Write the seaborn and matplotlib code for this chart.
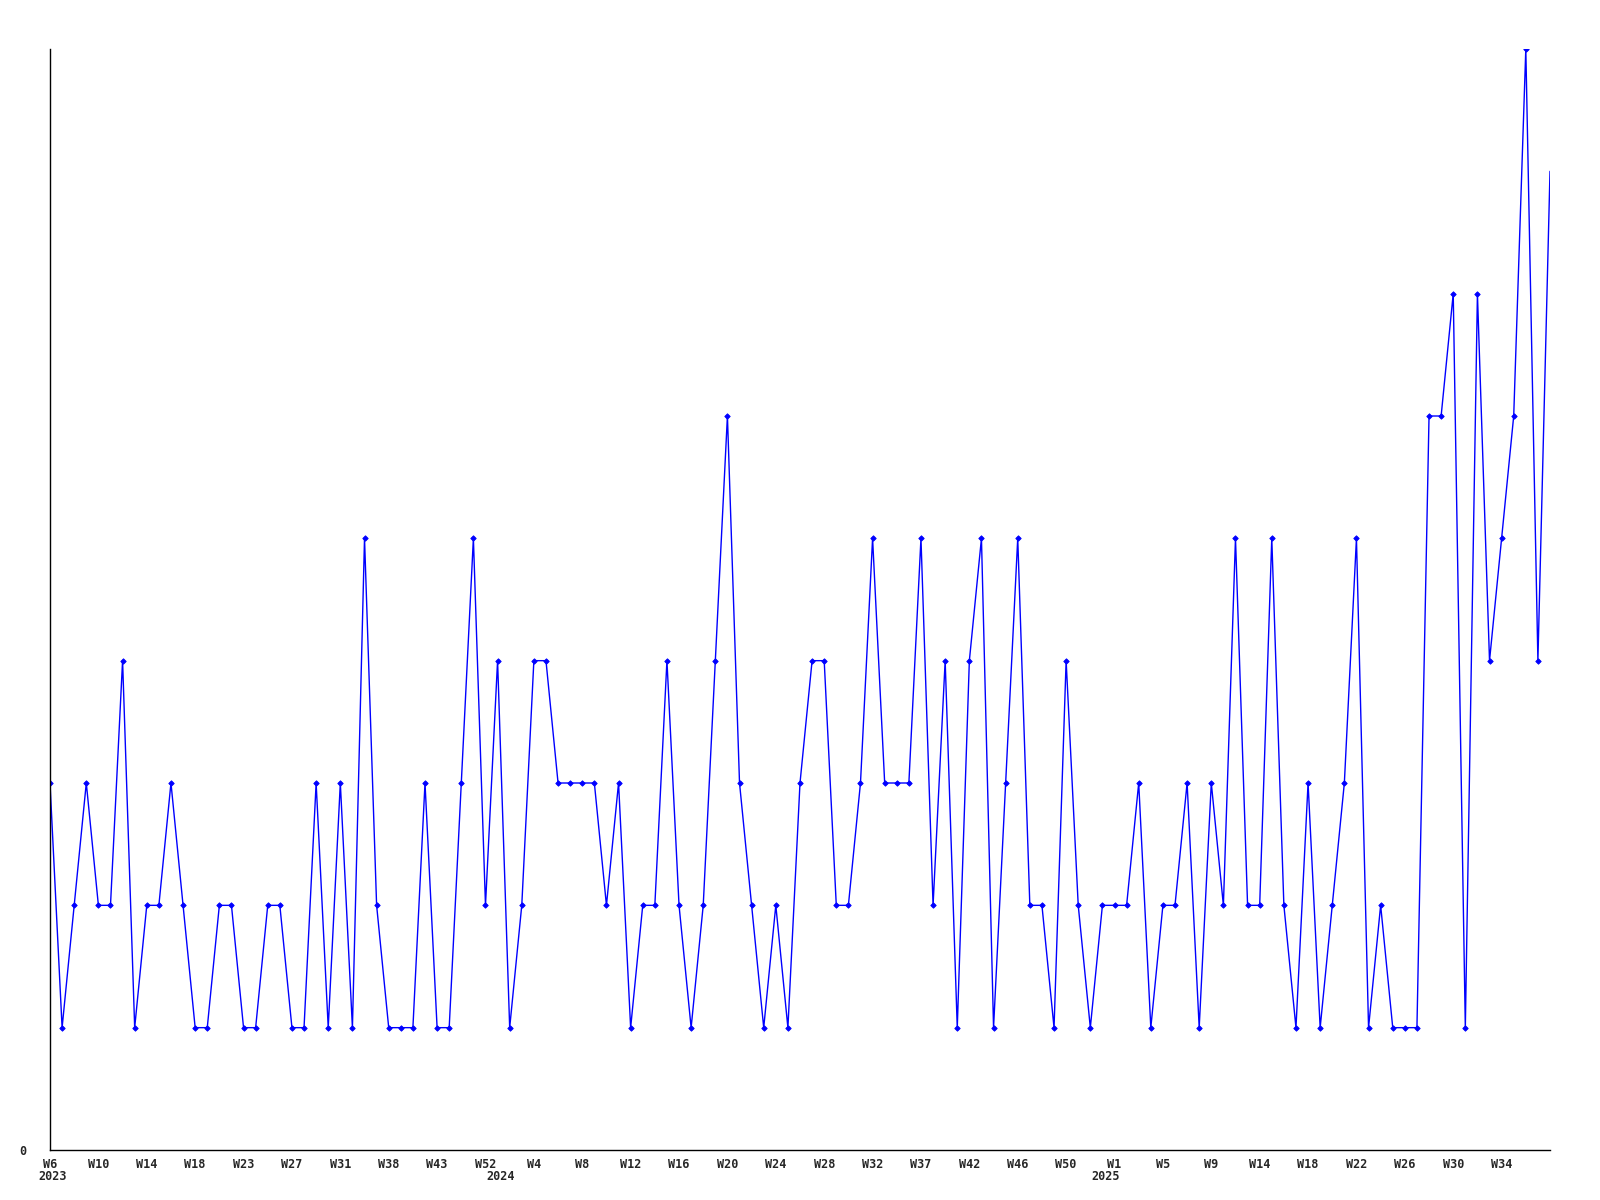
import matplotlib
matplotlib.use("Agg")
import matplotlib.pyplot as plt
import seaborn as sns
import pandas as pd

# Weekly counts (one value per reported week, in order)
values = [
    3, 1, 2, 3, 2, 2, 4, 1, 2, 2, 3, 2, 1, 1, 2, 2, 1, 1, 2, 2,
    1, 1, 3, 1, 3, 1, 5, 2, 1, 1, 1, 3, 1, 1, 3, 5, 2, 4, 1, 2,
    4, 4, 3, 3, 3, 3, 2, 3, 1, 2, 2, 4, 2, 1, 2, 4, 6, 3, 2, 1,
    2, 1, 3, 4, 4, 2, 2, 3, 5, 3, 3, 3, 5, 2, 4, 1, 4, 5, 1, 3,
    5, 2, 2, 1, 4, 2, 1, 2, 2, 2, 3, 1, 2, 2, 3, 1, 3, 2, 5, 2,
    2, 5, 2, 1, 3, 1, 2, 3, 5, 1, 2, 1, 1, 1, 6, 6, 7, 1, 7, 4,
    5, 6, 9, 4, 8,
]

# Week tick labels (every 4th reported week)
week_labels = [
    "W6", "W10", "W14", "W18", "W23", "W27", "W31", "W38", "W43", "W52",
    "W4", "W8", "W12", "W16", "W20", "W24", "W28", "W32", "W37", "W42",
    "W46", "W50", "W1", "W5", "W9", "W14", "W18", "W22", "W26", "W30", "W34",
]
week_tick_step = 4

# Year labels and the index of the first reported week of each year
year_labels = ["2023", "2024", "2025"]
year_start_index = [0, 37, 87]

df = pd.DataFrame({"idx": range(len(values)), "count": values})

sns.set_style("white")
plt.rcParams["font.family"] = ["DejaVu Sans Mono", "DejaVu Sans"]

fig = plt.figure(figsize=(16, 12), dpi=100)
ax = fig.add_axes([50 / 1600, 1 - 1150 / 1200, 1500 / 1600, (1150 - 49) / 1200])

sns.lineplot(
    data=df, x="idx", y="count", ax=ax, color="#0000FF", linewidth=1.0,
    marker="D", markersize=2.8, markeredgewidth=0.6, markeredgecolor="#0000FF",
    markevery=list(range(len(values) - 1)),
)

ax.set_xlim(0, len(values) - 1)
ax.set_ylim(0, max(values))

tick_pos = list(range(0, len(values), week_tick_step))[: len(week_labels)]
ax.set_xticks(tick_pos)
ax.set_xticklabels(week_labels, fontsize=8.5, fontweight="bold")
ax.set_yticks([0])
ax.set_yticklabels(["0"], fontsize=8.5, fontweight="bold")
ax.tick_params(axis="x", length=0, pad=5.5)
ax.tick_params(axis="y", length=0, pad=17)

for lab, i in zip(year_labels, year_start_index):
    ax.annotate(lab, xy=(i, 0), xycoords=("data", "axes fraction"),
                xytext=(2, -19), textcoords="offset points",
                ha="center", va="center", fontsize=8.5, fontweight="bold")

ax.set_xlabel("")
ax.set_ylabel("")
for side in ["top", "right"]:
    ax.spines[side].set_visible(False)
for side in ["left", "bottom"]:
    ax.spines[side].set_color("black")
    ax.spines[side].set_linewidth(1.0)
ax.grid(False)

fig.savefig("out.png", dpi=100, facecolor="white")
